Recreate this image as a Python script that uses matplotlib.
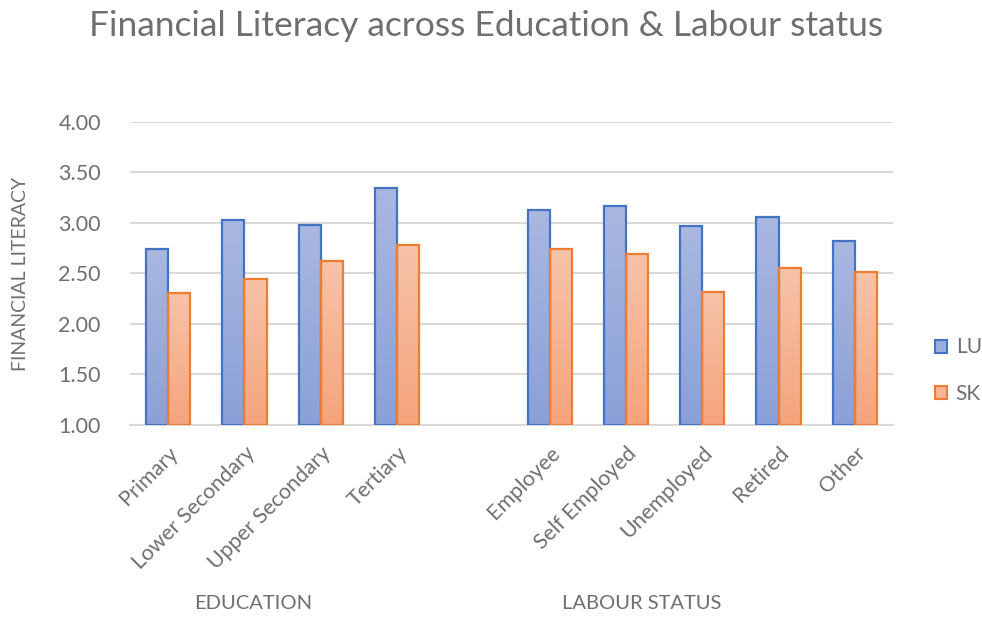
import numpy as np
import matplotlib
matplotlib.use("Agg")
import matplotlib.pyplot as plt
from matplotlib.colors import LinearSegmentedColormap
from matplotlib.patches import Patch

plt.rcParams['font.family'] = ['Lato', 'DejaVu Sans']

# Data
categories = ['Primary', 'Lower Secondary', 'Upper Secondary', 'Tertiary', '',
              'Employee', 'Self Employed', 'Unemployed', 'Retired', 'Other']
lu_values = [2.74, 3.03, 2.98, 3.35, None, 3.13, 3.17, 2.97, 3.06, 2.82]
sk_values = [2.31, 2.45, 2.62, 2.78, None, 2.74, 2.69, 2.32, 2.55, 2.51]
groups = ['EDUCATION', 'LABOUR STATUS']
y_ticks = [1.0, 1.5, 2.0, 2.5, 3.0, 3.5, 4.0]

text_color = '#6F6F6F'
grid_color = '#D9D9D9'

fig = plt.figure(figsize=(9.82, 6.18), dpi=100)
ax = fig.add_axes([0.1324, 0.3123, 0.777, 0.4903])

x = np.arange(len(categories))
width = 0.29

blue_cmap = LinearSegmentedColormap.from_list('b', ['#8AA0D8', '#AAB8E0'])
orange_cmap = LinearSegmentedColormap.from_list('o', ['#F5A47C', '#F7C3A9'])
grad = np.linspace(0, 1, 256).reshape(-1, 1)


def gradient_bars(xs, vals, cmap, edge, offset):
    for xi, v in zip(xs, vals):
        if v is None:
            continue
        bar = ax.bar(xi + offset, v - 1.0, width, bottom=1.0,
                     facecolor='none', edgecolor=edge, linewidth=1.6, zorder=3)[0]
        left = xi + offset - width / 2
        im = ax.imshow(grad, cmap=cmap, origin='lower', aspect='auto',
                       extent=[left, left + width, 1.0, v], zorder=2)
        im.set_clip_path(bar)


gradient_bars(x, lu_values, blue_cmap, '#4472C4', -width / 2)
gradient_bars(x, sk_values, orange_cmap, '#ED7D31', width / 2)

ax.set_xlim(-0.5, len(categories) - 0.5)
ax.set_ylim(1.0, 4.0)
ax.set_yticks(y_ticks)
ax.set_yticklabels([f'{t:.2f}' for t in y_ticks])
ax.yaxis.grid(True, color=grid_color, linewidth=1.5, zorder=0)
ax.set_axisbelow(True)
for s in ['top', 'right', 'left']:
    ax.spines[s].set_visible(False)
ax.spines['bottom'].set_color(grid_color)
ax.spines['bottom'].set_linewidth(1.5)
ax.tick_params(axis='both', length=0, labelsize=15.5, labelcolor=text_color)
ax.tick_params(axis='y', pad=21)

ax.set_xticks(x)
ax.set_xticklabels(categories, rotation=45, ha='right', va='top',
                   rotation_mode='anchor')
ax.tick_params(axis='x', pad=13)

ax.set_ylabel('FINANCIAL LITERACY', color=text_color, fontsize=14, labelpad=21)

# group labels
ax.text(0.161, -0.59, groups[0], transform=ax.transAxes, ha='center',
        va='center', color=text_color, fontsize=14.5)
ax.text(0.671, -0.59, groups[1], transform=ax.transAxes, ha='center',
        va='center', color=text_color, fontsize=14.5)

fig.text(0.495, 0.958, 'Financial Literacy across Education & Labour status',
         ha='center', va='center', color=text_color, fontsize=25.5)

# legend
handles = [Patch(facecolor='#9AAEDD', edgecolor='#4472C4', linewidth=1.5),
           Patch(facecolor='#F6B493', edgecolor='#ED7D31', linewidth=1.5)]
fig.legend(handles, ['LU', 'SK'], loc='center left',
           bbox_to_anchor=(0.952, 0.4005), frameon=False, fontsize=15,
           labelcolor=text_color, handlelength=0.6, handleheight=0.6,
           handletextpad=0.4, labelspacing=1.25, borderpad=0, borderaxespad=0)

fig.savefig('out.png', dpi=100)
